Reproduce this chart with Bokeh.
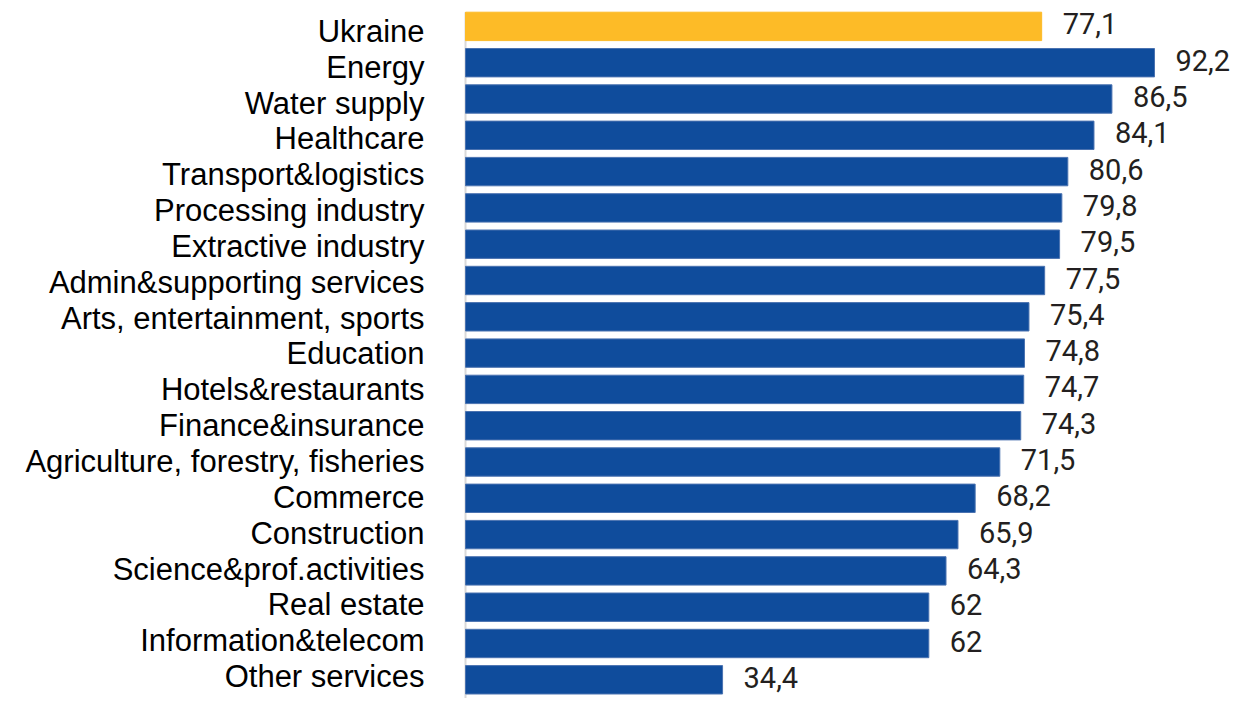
from bokeh.plotting import figure
from bokeh.models import Range1d, ColumnDataSource
from bokeh.core.properties import value
from bokeh.embed import file_html
from bokeh.resources import INLINE

categories = ["Ukraine", "Energy", "Water supply", "Healthcare", "Transport&logistics",
              "Processing industry", "Extractive industry", "Admin&supporting services",
              "Arts, entertainment, sports", "Education", "Hotels&restaurants",
              "Finance&insurance", "Agriculture, forestry, fisheries", "Commerce",
              "Construction", "Science&prof.activities", "Real estate",
              "Information&telecom", "Other services"]
values = [77.1, 92.2, 86.5, 84.1, 80.6, 79.8, 79.5, 77.5, 75.4, 74.8, 74.7, 74.3,
          71.5, 68.2, 65.9, 64.3, 62, 62, 34.4]
highlight = "Ukraine"

W, H = 1231, 698
px_per_unit = 7.473
left_px = 465
pitch = 36.3
first_center = 25.9
bar_h = 28.4 / pitch

rows = list(range(len(categories)))
colors = ["#FDBB27" if c == highlight else "#0F4C9C" for c in categories]
lines = ["#FDBB27" if c == highlight else "#4A72B0" for c in categories]
labels = [(("%g" % v).replace(".", ",")) for v in values]
cat_yoff = [5.0 - 0.46 * i for i in rows]

src = ColumnDataSource(dict(y=rows, v=values, c=colors, lc=lines, lab=labels,
                            cat=categories, cyo=cat_yoff, zero=[0] * len(rows)))

p = figure(width=W, height=H, output_backend="svg", toolbar_location=None,
           x_range=Range1d(-left_px / px_per_unit, (W - left_px) / px_per_unit),
           y_range=Range1d((H - first_center) / pitch, -first_center / pitch),
           min_border=0, min_border_left=0, min_border_right=0,
           min_border_top=0, min_border_bottom=0)
p.xaxis.visible = False
p.yaxis.visible = False
p.grid.visible = False
p.outline_line_color = None
p.background_fill_color = "white"
p.border_fill_color = "white"

p.segment(x0=[0], y0=[-bar_h / 2], x1=[0], y1=[len(rows)], line_color="#D9D9D9", line_width=2)

p.hbar(y="y", right="v", left=0, height=bar_h, fill_color="c", line_color="lc",
       line_width=1, source=src)

p.text(x="v", y="y", text="lab", x_offset=21, y_offset=-2.5, text_align="left",
       text_baseline="alphabetic", text_font=value("Roboto"), text_font_size="29px",
       text_color="#231F20", source=src)

p.text(x="zero", y="y", text="cat", x_offset=-41, y_offset="cyo", text_align="right",
       text_baseline="alphabetic", text_font=value("Liberation Sans"), text_font_size="31px",
       text_color="#000000", source=src)

open("out.html", "w").write(file_html(p, INLINE))
